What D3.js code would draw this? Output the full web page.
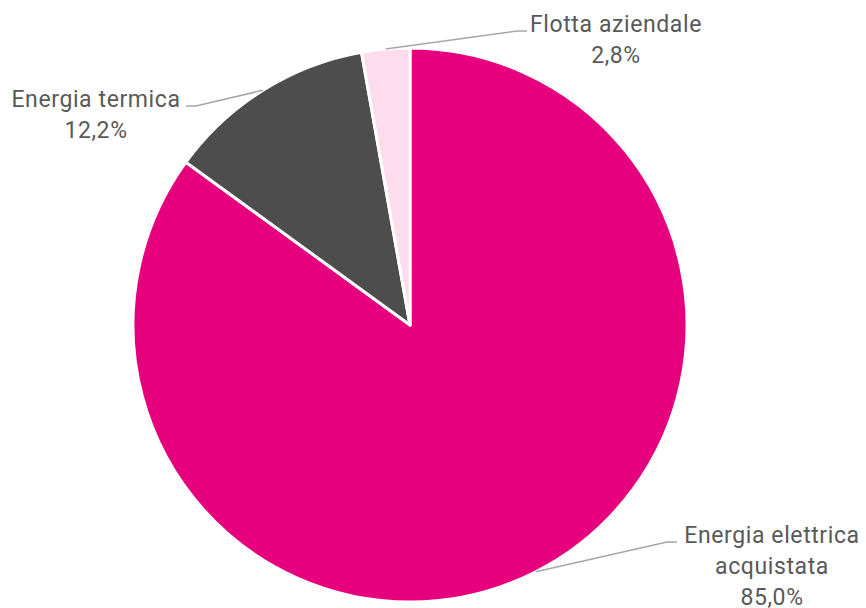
<!DOCTYPE html>
<html>
  <head>
    <style>
      body { margin: 0; background: #fff; }
      text { font-family: Roboto, "DejaVu Sans Condensed", sans-serif; fill: #595959; letter-spacing: 0.6px; }
    </style>
  </head>
  <body>
    <div id="chart"></div>
    <script src="https://d3js.org/d3.v7.min.js"></script>
<script>

  var categories = ["Energia elettrica acquistata", "Energia termica", "Flotta aziendale"];
  var values = [85.0, 12.2, 2.8];
  var labelLines = [["Energia elettrica", "acquistata"], ["Energia termica"], ["Flotta aziendale"]];
  var colors = ["#e6007e", "#4d4d4d", "#fddded"];

  // where each label block sits (center x, first baseline y) and elbow of leader
  var labelLayout = [
    {x: 772, y: 543, elbow: 667},
    {x: 96, y: 107, elbow: 196},
    {x: 616, y: 32, elbow: 517}
  ];

  var width = 866, height = 608;
  var cx = 410, cy = 325, radius = 277;

  var svg = d3.select("#chart").append("svg")
    .attr("width", width)
    .attr("height", height);

  var g = svg.append("g")
    .attr("transform", "translate(" + cx + "," + cy + ")");

  var data = categories.map(function(c, i) {
    return {name: c, value: values[i], lines: labelLines[i], color: colors[i], pos: labelLayout[i]};
  });

  var pie = d3.pie().sort(null).value(function(d) { return d.value; });
  var arc = d3.arc().innerRadius(0).outerRadius(radius);
  var arcs = pie(data);

  g.selectAll("path.slice")
    .data(arcs)
    .enter().append("path")
    .attr("class", "slice")
    .attr("d", arc)
    .attr("fill", function(d) { return d.data.color; })
    .attr("stroke", "#fff")
    .attr("stroke-width", 3)
    .attr("stroke-linejoin", "round");

  var fmt = function(v) { return d3.format(".1f")(v).replace(".", ",") + "%"; };

  // leader lines
  svg.selectAll("polyline.leader")
    .data(arcs)
    .enter().append("polyline")
    .attr("class", "leader")
    .attr("fill", "none")
    .attr("stroke", "#a6a6a6")
    .attr("stroke-width", 1.5)
    .attr("points", function(d) {
      var mid = (d.startAngle + d.endAngle) / 2;
      var sx = cx + radius * Math.sin(mid), sy = cy - radius * Math.cos(mid);
      var p = d.data.pos;
      var left = p.elbow < cx;
      var ex = left ? p.elbow - 10 : p.elbow + 10;
      return [[sx, sy], [p.elbow, p.y - 1], [ex, p.y - 1]].join(" ");
    });

  var labels = svg.selectAll("text.lbl")
    .data(arcs)
    .enter().append("text")
    .attr("class", "lbl")
    .attr("text-anchor", "middle")
    .style("font-size", "23px");

  labels.each(function(d) {
    var t = d3.select(this);
    var lines = d.data.lines.concat([fmt(d.data.value)]);
    lines.forEach(function(s, i) {
      t.append("tspan")
        .attr("x", d.data.pos.x)
        .attr("y", d.data.pos.y + i * 31)
        .text(s);
    });
  });

</script>
  </body>
</html>
